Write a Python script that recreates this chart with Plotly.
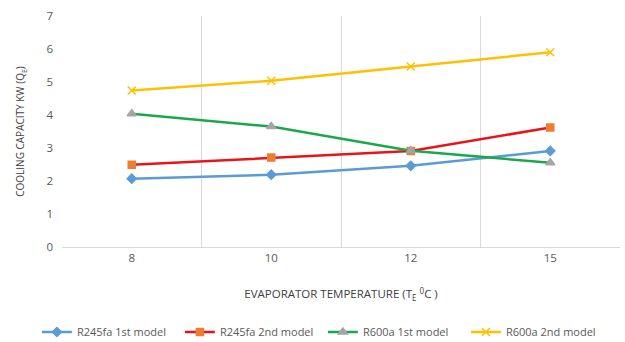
import plotly.graph_objects as go

categories = ["8", "10", "12", "15"]
r245fa_1st = [2.07, 2.19, 2.46, 2.91]
r245fa_2nd = [2.49, 2.71, 2.91, 3.62]
r600a_1st = [4.04, 3.65, 2.92, 2.55]
r600a_2nd = [4.74, 5.04, 5.47, 5.90]
y_ticks = [0, 1, 2, 3, 4, 5, 6, 7]

series = [
    ("R245fa 1st model", r245fa_1st, "#5B9BD5", "diamond", "#5B9BD5", 7),
    ("R245fa 2nd model", r245fa_2nd, "#E8141B", "square", "#ED7D31", 7),
    ("R600a 1st model", r600a_1st, "#19A94B", "triangle-up", "#A5A5A5", 8),
    ("R600a 2nd model", r600a_2nd, "#FFC000", "x-thin", "#FFC000", 8),
]

fig = go.Figure()
for name, vals, lc, sym, mc, ms in series:
    fig.add_trace(go.Scatter(
        x=categories, y=vals, name=name, mode="lines+markers",
        line=dict(color=lc, width=2.5),
        marker=dict(symbol=sym, color=mc, size=ms,
                    line=dict(color=mc, width=1.5)),
    ))

font = "Open Sans"
fig.update_layout(
    width=625, height=342,
    margin=dict(l=62, r=5, t=16, b=95, autoexpand=False),
    paper_bgcolor="white", plot_bgcolor="white",
    font=dict(family=font, size=11, color="#595959"),
    showlegend=True,
    legend=dict(orientation="h", x=-0.045, xanchor="left", y=-0.368, yanchor="middle",
                font=dict(size=11, color="#595959"), itemwidth=30,
                entrywidth=98, tracegroupgap=0),
    xaxis=dict(
        type="category", tickson="boundaries", showgrid=True, range=[-0.5, 3.5],
        gridcolor="#D9D9D9", gridwidth=1, ticks="", showline=True,
        linecolor="#D9D9D9", zeroline=False,
        tickfont=dict(size=11.5),
        title=dict(text="EVAPORATOR TEMPERATURE (T<sub>E</sub> <sup>0</sup>C )",
                   font=dict(size=11.5, color="#404040"), standoff=26),
    ),
    yaxis=dict(
        range=[0, 7], tickvals=y_ticks, showgrid=False, zeroline=False,
        showline=False, ticks="", ticklabelstandoff=8,
        tickfont=dict(size=11.5),
        title=dict(text="COOLING CAPACITY KW (Q<sub>E</sub>)",
                   font=dict(size=10, color="#404040"), standoff=19),
    ),
)

fig.write_html("out.html")
